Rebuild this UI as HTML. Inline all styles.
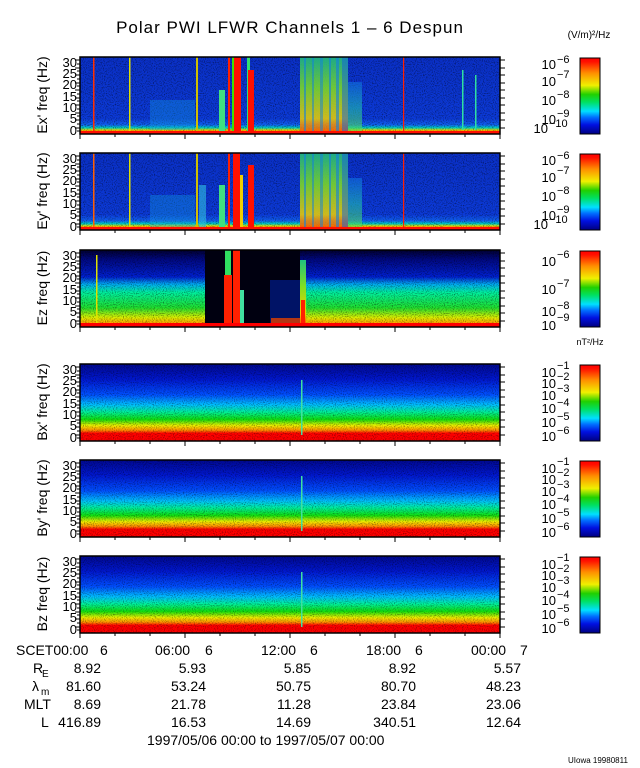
<!DOCTYPE html>
<html><head><meta charset="utf-8"><style>
body{margin:0;background:#fff;}
svg{display:block;font-family:"Liberation Sans",sans-serif;}
</style></head><body>
<svg width="640" height="768" viewBox="0 0 640 768" xmlns="http://www.w3.org/2000/svg">
<defs>
<linearGradient id="gE" x1="0" y1="0" x2="0" y2="1">
<stop offset="0" stop-color="#0a30c8"/><stop offset="0.8" stop-color="#0c3ad8"/>
<stop offset="0.88" stop-color="#1060f0"/><stop offset="0.92" stop-color="#00d0c0"/>
<stop offset="0.95" stop-color="#f0e000"/><stop offset="0.97" stop-color="#ff2000"/><stop offset="1" stop-color="#e00000"/>
</linearGradient>
<linearGradient id="gZ" x1="0" y1="0" x2="0" y2="1">
<stop offset="0" stop-color="#000030"/><stop offset="0.12" stop-color="#000880"/>
<stop offset="0.35" stop-color="#0020d0"/><stop offset="0.45" stop-color="#00b0f0"/>
<stop offset="0.55" stop-color="#00f0a0"/><stop offset="0.75" stop-color="#20e030"/>
<stop offset="0.88" stop-color="#e0f000"/><stop offset="0.95" stop-color="#ffa000"/><stop offset="0.97" stop-color="#ff0000"/><stop offset="1" stop-color="#e00000"/>
</linearGradient>
<linearGradient id="gB" x1="0" y1="0" x2="0" y2="1">
<stop offset="0" stop-color="#000890"/><stop offset="0.2" stop-color="#0018d0"/>
<stop offset="0.4" stop-color="#0050ff"/><stop offset="0.53" stop-color="#00c0ff"/>
<stop offset="0.62" stop-color="#00f0a0"/><stop offset="0.72" stop-color="#10e010"/>
<stop offset="0.8" stop-color="#f0f000"/><stop offset="0.86" stop-color="#ff9000"/>
<stop offset="0.9" stop-color="#ff0000"/><stop offset="1" stop-color="#ff0000"/>
</linearGradient>
<linearGradient id="gC" x1="0" y1="1" x2="0" y2="0">
<stop offset="0" stop-color="#000080"/><stop offset="0.12" stop-color="#0010e0"/>
<stop offset="0.22" stop-color="#0070ff"/><stop offset="0.3" stop-color="#00e0ff"/>
<stop offset="0.42" stop-color="#00e060"/><stop offset="0.52" stop-color="#20d000"/>
<stop offset="0.64" stop-color="#f0f000"/><stop offset="0.8" stop-color="#ff9000"/>
<stop offset="0.95" stop-color="#ff1000"/><stop offset="1" stop-color="#ff0000"/>
</linearGradient>
<linearGradient id="burst" x1="0" y1="0" x2="0" y2="1">
<stop offset="0" stop-color="#20c080"/><stop offset="0.4" stop-color="#80e020"/>
<stop offset="0.8" stop-color="#f0d000"/><stop offset="1" stop-color="#ff3000"/>
</linearGradient>
<linearGradient id="burst2" x1="0" y1="0" x2="0" y2="1">
<stop offset="0" stop-color="#1070e0"/><stop offset="0.5" stop-color="#20c0b0"/>
<stop offset="1" stop-color="#60e040"/>
</linearGradient>
<filter id="nz" x="0" y="0" width="1" height="1">
<feTurbulence type="fractalNoise" baseFrequency="0.9" numOctaves="1" seed="3" result="t"/>
<feColorMatrix in="t" type="matrix" values="0 0 0 0 0  0 0 0 0 0  0 0 0 0 0  0 0 0 -3 1.6" result="d"/>
<feComposite in="d" in2="SourceGraphic" operator="in"/>
</filter>
<g id="bst">
<rect x="300" y="0" width="48" height="77" fill="url(#burst)" opacity="0.85"/>
<rect x="304" y="0" width="2" height="77" fill="#1080e0" opacity="0.6"/>
<rect x="312" y="0" width="2" height="77" fill="#1080e0" opacity="0.5"/>
<rect x="320" y="0" width="3" height="77" fill="#1080e0" opacity="0.5"/>
<rect x="329" y="0" width="2" height="77" fill="#1080e0" opacity="0.6"/>
<rect x="336" y="0" width="3" height="77" fill="#1080e0" opacity="0.6"/>
<rect x="342" y="0" width="6" height="77" fill="#1060e0" opacity="0.5"/>
<rect x="348" y="25" width="14" height="52" fill="url(#burst2)" opacity="0.6"/>
</g>
</defs>

<text x="290" y="33" font-size="17" text-anchor="middle" letter-spacing="1">Polar PWI LFWR Channels 1 – 6 Despun</text>
<text x="589" y="38" font-size="10" text-anchor="middle">(V/m)²/Hz</text>

<g>
<rect x="80" y="57" width="420" height="77" fill="url(#gE)"/>
<rect x="80" y="57" width="420" height="77" fill="#000" opacity="0.5" filter="url(#nz)"/>
<rect x="93" y="57" width="1.5" height="77" fill="#ff3000"/>
<rect x="129" y="57" width="1.5" height="77" fill="#e0e000"/>
<rect x="150" y="100" width="45" height="30" fill="#10a0e0" opacity="0.35"/>
<rect x="196" y="57" width="2" height="77" fill="#d0c000"/>
<rect x="219" y="90" width="6" height="44" fill="#40e080"/>
<rect x="228" y="57" width="2" height="77" fill="#ff2000"/>
<rect x="232" y="57" width="3" height="77" fill="#40e000"/>
<rect x="234" y="57" width="7" height="77" fill="#ff1000"/>
<rect x="247" y="57" width="3" height="77" fill="#30e070"/>
<rect x="248" y="70" width="6" height="64" fill="#ff1000"/>
<use href="#bst" y="57"/>
<rect x="403" y="57" width="1.2" height="77" fill="#ff2000"/>
<rect x="462" y="70" width="1.5" height="60" fill="#30e0a0"/>
<rect x="475" y="75" width="1.5" height="55" fill="#30e0a0"/>
<rect x="80" y="131" width="420" height="3" fill="#ff1000"/>
</g>
<g>
<rect x="80" y="153" width="420" height="77" fill="url(#gE)"/>
<rect x="80" y="153" width="420" height="77" fill="#000" opacity="0.5" filter="url(#nz)"/>
<rect x="93" y="153" width="1.5" height="77" fill="#ff6000"/>
<rect x="129" y="153" width="1.5" height="77" fill="#e0e000"/>
<rect x="150" y="195" width="45" height="32" fill="#10a0e0" opacity="0.35"/>
<rect x="196" y="153" width="2" height="77" fill="#d0c000"/>
<rect x="199" y="185" width="7" height="45" fill="#30c0e0" opacity="0.6"/>
<rect x="219" y="185" width="6" height="45" fill="#40e080"/>
<rect x="228" y="153" width="2" height="77" fill="#ff2000"/>
<rect x="233" y="153" width="7" height="77" fill="#ff1000"/>
<rect x="240" y="175" width="3" height="55" fill="#f0d000"/>
<rect x="248" y="165" width="6" height="65" fill="#ff1000"/>
<use href="#bst" y="153"/>
<rect x="403" y="153" width="1.2" height="77" fill="#ff2000"/>
<rect x="80" y="227" width="420" height="3" fill="#ff1000"/>
</g>
<g>
<rect x="80" y="250" width="420" height="77" fill="url(#gZ)"/>
<rect x="80" y="250" width="420" height="77" fill="#000" opacity="0.5" filter="url(#nz)"/>
<rect x="205" y="250" width="95" height="74" fill="#000010"/>
<rect x="270" y="280" width="30" height="44" fill="#0020a0" opacity="0.6"/>
<rect x="225" y="250" width="6" height="77" fill="#30e060"/>
<rect x="224" y="275" width="8" height="52" fill="#ff2000"/>
<rect x="233" y="250" width="7" height="77" fill="#ff2000"/>
<rect x="240" y="290" width="4" height="37" fill="#40e0a0"/>
<rect x="271" y="318" width="30" height="9" fill="#e04000" opacity="0.8"/>
<rect x="300" y="260" width="6" height="67" fill="url(#burst)"/>
<rect x="301" y="300" width="4" height="27" fill="#ff2000"/>
<rect x="96" y="255" width="1.5" height="72" fill="#e0e000"/>
<rect x="80" y="323" width="420" height="4" fill="#ff0000"/>
</g>
<g>
<rect x="80" y="364" width="420" height="77" fill="url(#gB)"/>
<rect x="80" y="364" width="420" height="77" fill="#000" opacity="0.45" filter="url(#nz)"/>
<rect x="301" y="380" width="1.5" height="55" fill="#40e0a0"/>
<rect x="80" y="460" width="420" height="77" fill="url(#gB)"/>
<rect x="80" y="460" width="420" height="77" fill="#000" opacity="0.45" filter="url(#nz)"/>
<rect x="301" y="476" width="1.5" height="55" fill="#40e0a0"/>
<rect x="80" y="556" width="420" height="77" fill="url(#gB)"/>
<rect x="80" y="556" width="420" height="77" fill="#000" opacity="0.45" filter="url(#nz)"/>
<rect x="301" y="572" width="1.5" height="55" fill="#40e0a0"/>
</g>

<g stroke="#000" fill="none">
<rect x="80" y="57" width="420" height="77" stroke-width="1.5"/>
<rect x="80" y="153" width="420" height="77" stroke-width="1.5"/>
<rect x="80" y="250" width="420" height="77" stroke-width="1.5"/>
<rect x="80" y="364" width="420" height="77" stroke-width="1.5"/>
<rect x="80" y="460" width="420" height="77" stroke-width="1.5"/>
<rect x="80" y="556" width="420" height="77" stroke-width="1.5"/>
</g>
<g id="tk" stroke="#000" stroke-width="1">
<path d="M80 60h-5M80 64h-3M80 68h-5M80 71h-3M80 75h-5M80 79h-3M80 83h-5M80 86h-3M80 90h-5M80 94h-3M80 98h-5M80 101h-3M80 105h-5M80 109h-3M80 113h-5M80 116h-3M80 120h-5M80 124h-3M80 128h-5M80 131h-3M500 60h5M500 68h5M500 75h5M500 83h5M500 90h5M500 98h5M500 105h5M500 113h5M500 120h5M500 128h5M80 134v5M185 134v5M290 134v5M395 134v5M500 134v5M115 134v3M150 134v3M220 134v3M255 134v3M325 134v3M360 134v3M430 134v3M465 134v3"/>
</g>
<use href="#tk" y="96"/><use href="#tk" y="193"/><use href="#tk" y="307"/><use href="#tk" y="403"/><use href="#tk" y="499"/>

<g font-size="13" text-anchor="end">
<g id="yl"><text x="77" y="67">30</text><text x="77" y="78">25</text><text x="77" y="89">20</text><text x="77" y="101">15</text><text x="77" y="112">10</text><text x="77" y="123">5</text><text x="77" y="135">0</text></g>
<use href="#yl" y="96"/><use href="#yl" y="193"/><use href="#yl" y="307"/><use href="#yl" y="403"/><use href="#yl" y="499"/>
</g>
<g font-size="14" text-anchor="middle">
<text transform="translate(47,95) rotate(-90)">Ex' freq (Hz)</text>
<text transform="translate(47,191) rotate(-90)">Ey' freq (Hz)</text>
<text transform="translate(47,288) rotate(-90)">Ez freq (Hz)</text>
<text transform="translate(47,402) rotate(-90)">Bx' freq (Hz)</text>
<text transform="translate(47,498) rotate(-90)">By' freq (Hz)</text>
<text transform="translate(47,594) rotate(-90)">Bz freq (Hz)</text>
</g>

<g stroke="#000" stroke-width="1">
<rect x="580" y="58" width="20" height="76" fill="url(#gC)"/>
<rect x="580" y="154" width="20" height="76" fill="url(#gC)"/>
<rect x="580" y="251" width="20" height="76" fill="url(#gC)"/>
<rect x="580" y="365" width="20" height="76" fill="url(#gC)"/>
<rect x="580" y="461" width="20" height="76" fill="url(#gC)"/>
<rect x="580" y="557" width="20" height="76" fill="url(#gC)"/>
</g>
<g font-size="13" text-anchor="end">
<g id="cE"><text x="556" y="69">10</text><text x="556" y="86">10</text><text x="556" y="105">10</text><text x="556" y="124">10</text><text x="548" y="133">10</text>
<g font-size="11" text-anchor="start"><text x="557" y="63">−6</text><text x="557" y="78">−7</text><text x="557" y="98">−8</text><text x="557" y="117">−9</text><text x="549" y="127">−10</text></g></g>
<use href="#cE" y="96"/>
<text x="556" y="266">10</text><text x="556" y="294">10</text><text x="556" y="316">10</text><text x="556" y="330">10</text>
<g font-size="11" text-anchor="start"><text x="557" y="258">−6</text><text x="557" y="287">−7</text><text x="557" y="309">−8</text><text x="557" y="321">−9</text></g>
<g id="cB"><text x="556" y="377">10</text><text x="556" y="388">10</text><text x="556" y="400">10</text><text x="556" y="413">10</text><text x="556" y="427">10</text><text x="556" y="441">10</text>
<g font-size="11" text-anchor="start"><text x="557" y="369">−1</text><text x="557" y="380">−2</text><text x="557" y="392">−3</text><text x="557" y="406">−4</text><text x="557" y="420">−5</text><text x="557" y="434">−6</text></g></g>
<use href="#cB" y="96"/><use href="#cB" y="192"/>
</g>
<text x="590" y="345" font-size="9" text-anchor="middle">nT²/Hz</text>

<g font-size="14" fill="#000">
<text x="16" y="655">SCET00:00</text><text x="100" y="655">6</text>
<text x="155" y="655">06:00</text><text x="205" y="655">6</text>
<text x="261" y="655">12:00</text><text x="310" y="655">6</text>
<text x="366" y="655">18:00</text><text x="415" y="655">6</text>
<text x="471" y="655">00:00</text><text x="520" y="655">7</text>
<text x="33" y="673">R</text><text x="42" y="677" font-size="10">E</text>
<g text-anchor="end">
<text x="101" y="673">8.92</text><text x="206" y="673">5.93</text><text x="311" y="673">5.85</text><text x="416" y="673">8.92</text><text x="521" y="673">5.57</text>
<text x="101" y="691">81.60</text><text x="206" y="691">53.24</text><text x="311" y="691">50.75</text><text x="416" y="691">80.70</text><text x="521" y="691">48.23</text>
<text x="101" y="709">8.69</text><text x="206" y="709">21.78</text><text x="311" y="709">11.28</text><text x="416" y="709">23.84</text><text x="521" y="709">23.06</text>
<text x="101" y="727">416.89</text><text x="206" y="727">16.53</text><text x="311" y="727">14.69</text><text x="416" y="727">340.51</text><text x="521" y="727">12.64</text>
</g>
<text x="32" y="691">λ</text><text x="41" y="695" font-size="10">m</text>
<text x="24" y="709">MLT</text>
<text x="41" y="727">L</text>
<text x="147" y="745">1997/05/06 00:00 to 1997/05/07 00:00</text>
</g>
<text x="568" y="763" font-size="8">UIowa 19980811</text>
</svg>
</body></html>
